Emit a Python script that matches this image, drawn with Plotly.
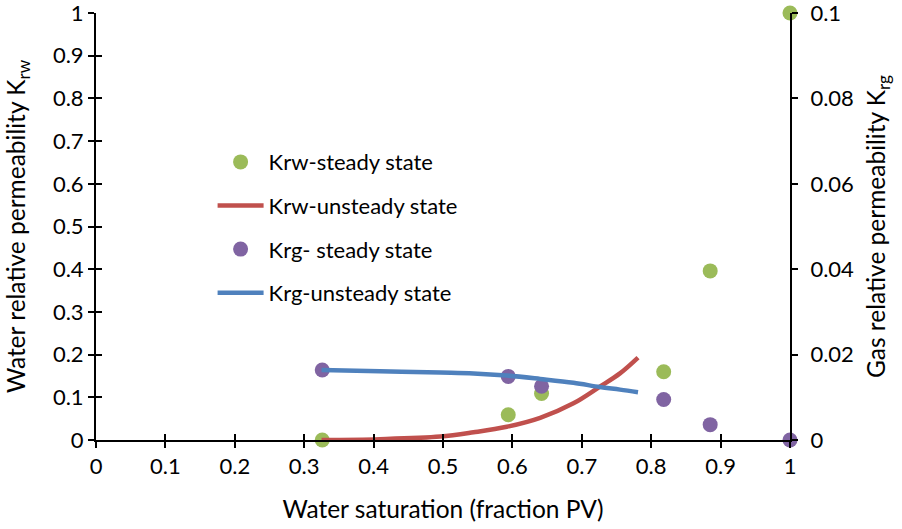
import plotly.graph_objects as go

# Steady-state measurements
sw_steady = [0.326, 0.594, 0.642, 0.818, 0.885, 1.0]
krw_steady = [0.0, 0.059, 0.109, 0.160, 0.396, 1.0]
krg_steady = [0.0164, 0.0149, 0.0126, 0.0095, 0.0036, 0.0]

# Unsteady-state curves
sw_unsteady = [0.325, 0.409, 0.496, 0.544, 0.592, 0.640, 0.688, 0.726, 0.755, 0.781]
krw_unsteady = [0.0, 0.002, 0.008, 0.018, 0.031, 0.052, 0.086, 0.125, 0.156, 0.193]
krg_unsteady = [0.0164, 0.0161, 0.0158, 0.0156, 0.0151, 0.0143, 0.0134, 0.0124, 0.0118, 0.0112]

x_ticks = [0, 0.1, 0.2, 0.3, 0.4, 0.5, 0.6, 0.7, 0.8, 0.9, 1]
x_tick_text = ["0", "0.1", "0.2", "0.3", "0.4", "0.5", "0.6", "0.7", "0.8", "0.9", "1"]
y_ticks = [0, 0.1, 0.2, 0.3, 0.4, 0.5, 0.6, 0.7, 0.8, 0.9, 1]
y_tick_text = ["0", "0.1", "0.2", "0.3", "0.4", "0.5", "0.6", "0.7", "0.8", "0.9", "1"]
y2_ticks = [0, 0.02, 0.04, 0.06, 0.08, 0.1]
y2_tick_text = ["0", "0.02", "0.04", "0.06", "0.08", "0.1"]

GREEN = "#9BBB59"
RED = "#C0504D"
PURPLE = "#8064A2"
BLUE = "#4F81BD"
FONT = "Lato"

fig = go.Figure()

fig.add_trace(go.Scatter(
    x=sw_steady, y=krw_steady, mode="markers", name="Krw-steady state",
    marker=dict(color=GREEN, size=15), cliponaxis=False,
    legendgroup="a", yaxis="y"))
fig.add_trace(go.Scatter(
    x=sw_unsteady, y=krw_unsteady, mode="lines", name="Krw-unsteady state",
    line=dict(color=RED, width=4.5, shape="spline"), cliponaxis=False,
    legendgroup="b", yaxis="y"))
fig.add_trace(go.Scatter(
    x=sw_steady, y=krg_steady, mode="markers", name="Krg- steady state",
    marker=dict(color=PURPLE, size=15), cliponaxis=False,
    legendgroup="c", yaxis="y2"))
fig.add_trace(go.Scatter(
    x=sw_unsteady, y=krg_unsteady, mode="lines", name="Krg-unsteady state",
    line=dict(color=BLUE, width=4.5, shape="spline"), cliponaxis=False,
    legendgroup="d", yaxis="y2"))

# empty trace carrying the inner halves of the crossing tick marks
fig.add_trace(go.Scatter(x=[], y=[], xaxis="x2", yaxis="y3", showlegend=False))

axis_font = dict(family=FONT, size=22, color="#000000")
title_font = dict(family=FONT, size=24.5, color="#000000")

fig.update_layout(
    width=902, height=529,
    margin=dict(l=96, r=112, t=13, b=89, autoexpand=False),
    paper_bgcolor="white", plot_bgcolor="white",
    font=dict(family=FONT, size=22, color="#000000"),
    showlegend=True,
    legend=dict(
        x=0.168, y=0.700, xanchor="left", yanchor="top",
        bgcolor="rgba(0,0,0,0)", font=dict(family=FONT, size=22, color="#000000"),
        traceorder="grouped", tracegroupgap=12, itemwidth=46,
    ),
    xaxis=dict(
        range=[0, 1], tickvals=x_ticks, ticktext=x_tick_text,
        showgrid=False, zeroline=False, showline=True, linecolor="#000000", linewidth=2,
        ticks="outside", ticklen=6, tickwidth=1.5, tickcolor="#000000",
        tickfont=axis_font, ticklabeloverflow="allow",
        title=dict(text="Water saturation (fraction PV)", font=title_font, standoff=22),
    ),
    yaxis=dict(
        range=[0, 1], tickvals=y_ticks, ticktext=y_tick_text,
        showgrid=False, zeroline=False, showline=True, linecolor="#000000", linewidth=2,
        ticks="outside", ticklen=6, tickwidth=1.5, tickcolor="#000000",
        tickfont=axis_font, ticklabeloverflow="allow",
        title=dict(text="Water relative permeability K<sub>rw</sub>", font=title_font, standoff=20),
    ),
    yaxis2=dict(
        range=[0, 0.1], tickvals=y2_ticks, ticktext=y2_tick_text,
        overlaying="y", side="right", anchor="x",
        showgrid=False, zeroline=False, showline=True, linecolor="#000000", linewidth=2,
        ticks="outside", ticklen=6, tickwidth=1.5, tickcolor="#000000",
        tickfont=axis_font, ticklabelstandoff=8, ticklabeloverflow="allow",
        title=dict(text="Gas relative permeability K<sub>rg</sub>", font=title_font, standoff=15),
    ),
    xaxis2=dict(
        range=[0, 1], tickvals=x_ticks, overlaying="x", anchor="y3",
        showgrid=False, zeroline=False, showline=False, showticklabels=False,
        ticks="inside", ticklen=6, tickwidth=1.5, tickcolor="#000000",
    ),
    yaxis3=dict(
        range=[0, 1], tickvals=y_ticks, overlaying="y", anchor="x2", side="left",
        showgrid=False, zeroline=False, showline=False, showticklabels=False,
        ticks="inside", ticklen=6, tickwidth=1.5, tickcolor="#000000",
    ),
)

fig.write_html("out.html")
